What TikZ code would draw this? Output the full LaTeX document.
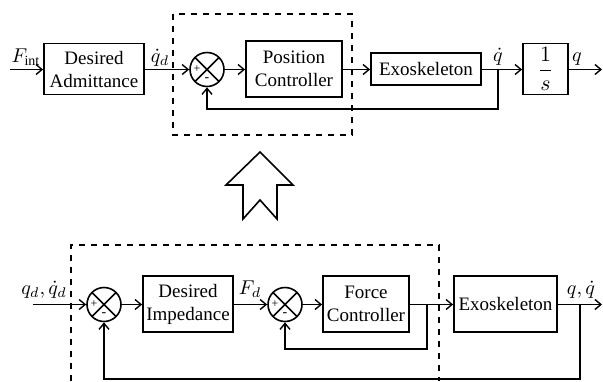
\documentclass[tikz,border=0pt]{standalone}
\usepackage{fontspec}
\setmainfont{Liberation Serif}
\usepackage{amsmath}
\usetikzlibrary{arrows.meta}

\begin{document}
\begin{tikzpicture}[x=0.5pt,y=-0.5pt]
\tikzstyle{every node}+=[inner sep=0pt]
\tikzstyle{block}=[draw=black, line width=0.9pt, align=center, font=\fontsize{9.5}{11.5}\selectfont]
\tikzstyle{sumnode}=[draw=black, line width=0.8pt, circle, minimum size=17pt,
  path picture={
    \draw [line width=0.8pt] (path picture bounding box.north west) -- (path picture bounding box.south east)
      (path picture bounding box.north east) -- (path picture bounding box.south west);
    \node [font=\fontsize{6}{6}\selectfont] at ([xshift=-5pt]path picture bounding box.center) {+};
    \node [font=\fontsize{7}{7}\selectfont] at ([yshift=-5pt]path picture bounding box.center) {-};
  }]
\tikzstyle{sig}=[-{Straight Barb[length=3pt,width=5pt]}, line width=0.7pt]
\tikzstyle{lbl}=[font=\fontsize{10}{12}\selectfont, anchor=base]
\useasboundingbox (0,0) rectangle (603,381);
% admittance scheme (top)
\coordinate (fin) at (10,69.5);
\node [block, minimum width=50pt, minimum height=25.5pt] (adm) at (94,69) {Desired\\Admittance};
\node [sumnode] (s1) at (207,69.5) {};
\node [block, minimum width=48pt, minimum height=28pt] (pos) at (294,69) {Position\\Controller};
\node [block, minimum width=55pt, minimum height=16pt] (exo1) at (426,69) {Exoskeleton};
\node [block, minimum width=22.5pt, minimum height=25.5pt, font=\fontsize{11}{12}\selectfont] (int) at (545.5,69) {$\dfrac{1}{s}$};
\coordinate (qout) at (602,69.5);
\coordinate (b1) at (498,69.5);
\coordinate (fb1) at (498,109);
\draw [sig] (fin) -- (fin -| adm.west);
\draw [sig] (adm.east |- s1) -- (s1.west);
\draw [sig] (s1.east) -- (s1 -| pos.west);
\draw [sig] (pos.east |- s1) -- (s1 -| exo1.west);
\draw [sig] (exo1.east |- s1) -- (s1 -| int.west);
\draw [sig] (int.east |- s1) -- (qout);
\draw [sig] (b1) -- (fb1) -| (s1.south);
\node [lbl] at (26,62) {$F_{\mathrm{int}}$};
\node [lbl] at (160,62) {$\dot{q}_d$};
\node [lbl] at (498,61) {$\dot{q}$};
\node [lbl] at (577,61) {$q$};
\draw [dashed, line width=0.7pt] (173,14) rectangle (352,135);
% hollow arrow
\draw [line width=0.8pt] (260,152) -- (293,185) -- (277,185) -- (277,219) -- (260,200)
  -- (243,219) -- (243,185) -- (226,185) -- cycle;
% impedance scheme (bottom)
\coordinate (qin) at (33,304.5);
\node [sumnode] (s2) at (104,304.5) {};
\node [block, minimum width=45pt, minimum height=28pt] (imp) at (188,304) {Desired\\Impedance};
\node [sumnode] (s3) at (285,304.5) {};
\node [block, minimum width=43pt, minimum height=28pt] (force) at (366,304) {Force\\Controller};
\node [block, minimum width=51.5pt, minimum height=28pt] (exo2) at (505.5,304) {Exoskeleton};
\coordinate (qout2) at (602,304.5);
\coordinate (b2) at (427,304.5);
\coordinate (fb2) at (427,349);
\coordinate (b3) at (580,304.5);
\coordinate (fb3) at (580,379);
\draw [sig] (qin) -- (s2.west);
\draw [sig] (s2.east) -- (s2 -| imp.west);
\draw [sig] (imp.east |- s2) -- (s3.west);
\draw [sig] (s3.east) -- (s3 -| force.west);
\draw [sig] (force.east |- s2) -- (s2 -| exo2.west);
\draw [sig] (exo2.east |- s2) -- (qout2);
\draw [sig] (b2) -- (fb2) -| (s3.south);
\draw [sig] (b3) -- (fb3) -| (s2.south);
\node [lbl] at (44,294) {$q_d,\dot{q}_d$};
\node [lbl] at (250,294) {$F_d$};
\node [lbl] at (581,294) {$q,\dot{q}$};
\draw [dashed, line width=0.7pt] (71,381) -- (71,245) -- (439,245) -- (439,381);
\end{tikzpicture}
\end{document}
